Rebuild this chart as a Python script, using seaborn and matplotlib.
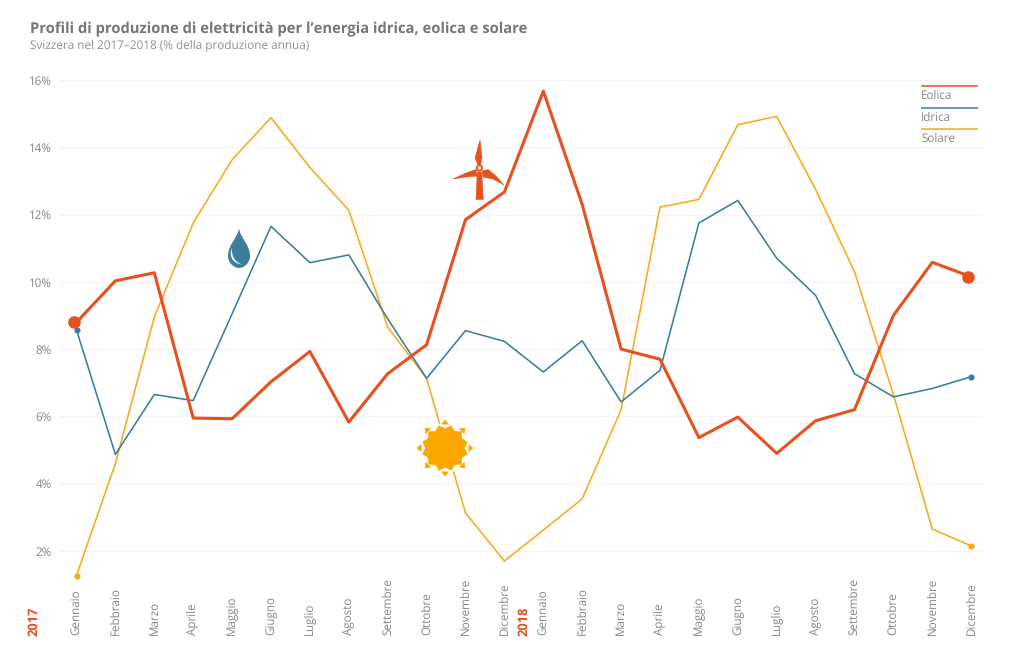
import matplotlib
matplotlib.use('Agg')
import matplotlib.pyplot as plt
from matplotlib.patches import Polygon, PathPatch, Circle
from matplotlib.path import Path
import numpy as np
import pandas as pd
import seaborn as sns

# dati (% della produzione annua)
mesi = ['Gennaio', 'Febbraio', 'Marzo', 'Aprile', 'Maggio', 'Giugno', 'Luglio', 'Agosto',
        'Settembre', 'Ottobre', 'Novembre', 'Dicembre']
eolica = [8.8, 10.03, 10.27, 5.95, 5.93, 7.03, 7.93, 5.83, 7.27, 8.13, 11.85, 12.67,
          15.67, 12.3, 8.0, 7.7, 5.37, 5.98, 4.9, 5.87, 6.2, 9.0, 10.58, 10.15]
idrica = [8.57, 4.87, 6.65, 6.47, 9.05, 11.65, 10.57, 10.8, 8.9, 7.13, 8.55, 8.23,
          7.32, 8.25, 6.43, 7.37, 11.75, 12.42, 10.7, 9.6, 7.27, 6.58, 6.83, 7.18]
solare = [1.27, 4.6, 8.95, 11.75, 13.63, 14.88, 13.4, 12.13, 8.65, 7.13, 3.13, 1.7,
          2.62, 3.55, 6.2, 12.22, 12.45, 14.67, 14.92, 12.75, 10.3, 6.65, 2.65, 2.15]
y_ticks = [2, 4, 6, 8, 10, 12, 14, 16]

ROSSO = '#e8501e'
BLU = '#3a7f9b'
GIALLO = '#f9aa1c'
GRIGIO = '#858585'
W, H = 1024, 658

sns.set_theme(style='white')
plt.rcParams['font.family'] = ['Open Sans', 'DejaVu Sans']
plt.rcParams['text.hinting'] = 'no_hinting'
plt.rcParams['text.hinting_factor'] = 8

df = pd.DataFrame({
    'pos': list(range(24)) * 3,
    'valore': solare + idrica + eolica,
    'serie': ['Solare'] * 24 + ['Idrica'] * 24 + ['Eolica'] * 24,
})
colori = {'Eolica': ROSSO, 'Idrica': BLU, 'Solare': GIALLO}
spessori = {'Eolica': 2.2, 'Idrica': 1.15, 'Solare': 1.15}

fig = plt.figure(figsize=(W / 100, H / 100), dpi=100, facecolor='white')
# assi posizionati in pixel: griglia da x=60 a 983, 16% a y=80, 2% a y=551
ax = fig.add_axes([60 / W, 1 - 600 / H, 923 / W, 520 / H])
sns.lineplot(data=df, x='pos', y='valore', hue='serie', size='serie', palette=colori,
             sizes=spessori, hue_order=['Solare', 'Idrica', 'Eolica'],
             size_order=['Solare', 'Idrica', 'Eolica'], legend=False, ax=ax, zorder=3)

# punti alle estremità (quelli rossi nell'originale sono un po' spostati a sinistra)
ax.scatter([0, 23], [solare[0], solare[-1]], s=20, color=GIALLO, zorder=4, linewidths=0)
ax.scatter([0, 23], [idrica[0], idrica[-1]], s=20, color=BLU, zorder=4, linewidths=0)
ax.scatter([-0.07, 22.93], [eolica[0], eolica[-1]], s=82, color=ROSSO, zorder=5, linewidths=0)

ax.set_xlim((60 - 76.5) / 38.9, (983 - 76.5) / 38.9)
ax.set_ylim(16 - 520 / 33.64, 16)
ax.set_xlabel('')
ax.set_ylabel('')
for s in ax.spines.values():
    s.set_visible(False)
ax.set_yticks(y_ticks)
ax.set_yticklabels([f'{v}%' for v in y_ticks])
ax.set_xticks(range(24))
ax.set_xticklabels(mesi + mesi, rotation=90, va='bottom', ha='center')
ax.tick_params(axis='x', length=0, pad=25.5, labelsize=8.4, labelcolor=GRIGIO)
ax.tick_params(axis='y', length=0, pad=5.8, labelsize=8.4, labelcolor=GRIGIO)
ax.yaxis.grid(True, color='#f4f4f4', linewidth=0.9)
ax.set_axisbelow(True)

# livello in pixel per titoli, legenda e icone
ov = fig.add_axes([0, 0, 1, 1], facecolor='none')
ov.set_xlim(0, W)
ov.set_ylim(H, 0)
ov.axis('off')

ov.text(30, 29, "Profili di produzione di elettricità per l’energia idrica, eolica e solare",
        fontsize=10.63, fontweight='bold', color='#767676', va='center')
ov.text(30, 46.5, 'Svizzera nel 2017–2018 (% della produzione annua)', fontsize=8.5,
        color='#8f8f8f', va='center')

ov.text(34, 635.5, '2017', rotation=90, color=ROSSO, fontsize=9.3, fontweight='bold', ha='center', va='bottom')
ov.text(524, 635.5, '2018', rotation=90, color=ROSSO, fontsize=9.3, fontweight='bold', ha='center', va='bottom')

# legenda con la linea sopra il testo
for nome, y_l in [('Eolica', 86), ('Idrica', 107.7), ('Solare', 129.3)]:
    ov.plot([921, 978], [y_l, y_l], color=colori[nome], lw=1.1, solid_capstyle='butt')
    ov.text(921, y_l + 9.8, nome, fontsize=8.4, color=GRIGIO, va='center')

# goccia
cx, cy = 239, 228
goccia = Path([(cx, cy), (cx + 1, cy + 10), (cx + 11, cy + 16), (cx + 11, cy + 28),
               (cx + 11, cy + 35), (cx + 5, cy + 40), (cx, cy + 40),
               (cx - 5, cy + 40), (cx - 11, cy + 35), (cx - 11, cy + 28),
               (cx - 11, cy + 16), (cx - 1, cy + 10), (cx, cy), (cx, cy)],
              [Path.MOVETO] + [Path.CURVE4] * 12 + [Path.CLOSEPOLY])
ov.add_patch(PathPatch(goccia, facecolor=BLU, edgecolor='none', zorder=6))
riflesso = Path([(cx - 7.5, cy + 20), (cx - 9.5, cy + 27), (cx - 8, cy + 35), (cx + 3, cy + 36.5),
                 (cx - 5, cy + 33.5), (cx - 7, cy + 28), (cx - 7.5, cy + 20), (cx - 7.5, cy + 20)],
                [Path.MOVETO] + [Path.CURVE4] * 6 + [Path.CLOSEPOLY])
ov.add_patch(PathPatch(riflesso, facecolor='white', edgecolor='none', zorder=7))

# pala eolica
hub = (479.5, 168)
ov.add_patch(Polygon([(477.3, 172), (481.7, 172), (483.3, 199.5), (476, 199.5)], color=ROSSO, lw=0.4, zorder=6))
ov.add_patch(Polygon([(480, 140), (482, 158), (480.5, 165), (478, 165), (475, 158)], color=ROSSO, lw=0.4, zorder=6))
ov.add_patch(Polygon([(453, 179), (466, 173), (476, 169.5), (477, 176), (466, 177)], color=ROSSO, lw=0.4, zorder=6))
ov.add_patch(Polygon([(504, 185), (496, 176), (488, 169.5), (482, 171), (483, 177), (493, 179)], color=ROSSO, lw=0.4, zorder=6))
ov.add_patch(Circle(hub, 3.6, color=ROSSO, lw=0, zorder=7))
ov.add_patch(Circle(hub, 1.7, color='white', lw=0, zorder=8))

# sole
sx, sy = 445, 448
ang = np.radians(np.arange(24) * 15 + 15)
rag = np.where(np.arange(24) % 2 == 0, 23.5, 19.5)
corpo = np.column_stack([sx + rag * np.cos(ang), sy + rag * np.sin(ang)])
ov.add_patch(Circle((sx, sy), 25, color='white', lw=0, zorder=6))
ov.add_patch(Polygon(corpo, color='#fca700', lw=0, zorder=7))
for a in np.radians(np.arange(8) * 45):
    perp = a + np.pi / 2
    base = np.array([sx + 23.5 * np.cos(a), sy + 23.5 * np.sin(a)])
    tri = [base + 4 * np.array([np.cos(perp), np.sin(perp)]),
           base - 4 * np.array([np.cos(perp), np.sin(perp)]),
           base + 5 * np.array([np.cos(a), np.sin(a)])]
    ov.add_patch(Polygon(tri, color='#fca700', lw=0, zorder=7))

fig.savefig('out.png', dpi=100)
